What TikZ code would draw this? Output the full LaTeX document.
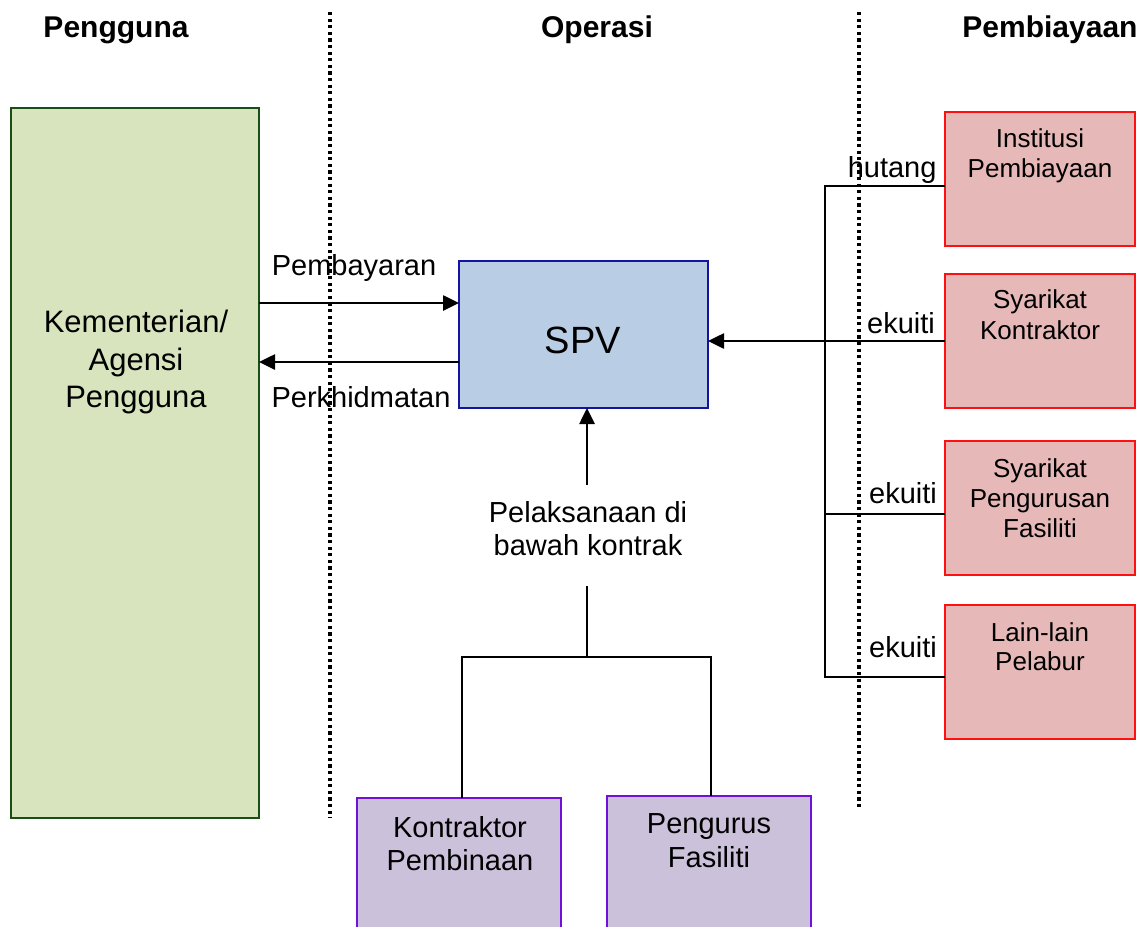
\documentclass[tikz,border=0pt]{standalone}
\usepackage{fontspec}
\setmainfont{Liberation Sans}
\usetikzlibrary{arrows.meta}
\definecolor{gfill}{HTML}{D7E4BD}
\definecolor{gdraw}{HTML}{1B4D14}
\definecolor{bfill}{HTML}{B9CDE5}
\definecolor{bdraw}{HTML}{1414A0}
\definecolor{rfill}{HTML}{E6B9B8}
\definecolor{rdraw}{HTML}{FF1010}
\definecolor{pfill}{HTML}{CCC1DA}
\definecolor{pdraw}{HTML}{7010D8}
\tikzset{
  box/.style={draw, line width=2pt, inner sep=0pt, outer sep=0pt},
  greenbox/.style={box, fill=gfill, draw=gdraw},
  bluebox/.style={box, fill=bfill, draw=bdraw},
  redbox/.style={box, fill=rfill, draw=rdraw},
  purplebox/.style={box, fill=pfill, draw=pdraw},
  conn/.style={line width=2.2pt},
  arr/.style={line width=2.6pt, -{Triangle[length=16pt,width=15pt]}},
  divider/.style={line width=3.2pt, dash pattern=on 3.2pt off 3.4pt},
  head/.style={font=\fontsize{30}{36}\selectfont\bfseries, anchor=base},
  lbl/.style={font=\fontsize{29}{33}\selectfont, anchor=base},
  rtxt/.style={font=\fontsize{26}{30}\selectfont, anchor=base},
}
\begin{document}
\begin{tikzpicture}[x=1pt,y=-1pt]
\useasboundingbox (0,0) rectangle (1148,926);
\clip (0,0) rectangle (1148,926);
\fill[white] (0,0) rectangle (1148,926);

% headers
\node[head] (hA) at (116,37) {Pengguna};
\node[head] (hB) at (597,37) {Operasi};
\node[head] (hC) at (1050,37) {Pembiayaan};

% dividers
\coordinate (d1t) at (330,12); \coordinate (d1b) at (330,818);
\coordinate (d2t) at (859,12); \coordinate (d2b) at (859,810);
\draw[divider] (d1t) -- (d1b);
\draw[divider] (d2t) -- (d2b);

% boxes
\node[greenbox, minimum width=248pt, minimum height=710pt] (kem) at (135,463) {};
\node[bluebox, minimum width=249pt, minimum height=147pt] (spv) at (583.5,334.5) {};
\node[redbox, minimum width=190pt, minimum height=134pt] (r1) at (1040,178.5) {};
\node[redbox, minimum width=190pt, minimum height=134pt] (r2) at (1040,340.5) {};
\node[redbox, minimum width=190pt, minimum height=134pt] (r3) at (1040,508) {};
\node[redbox, minimum width=190pt, minimum height=134pt] (r4) at (1040,672) {};
\node[purplebox, minimum width=204pt, minimum height=200pt] (p1) at (459,898) {};
\node[purplebox, minimum width=204pt, minimum height=200pt] (p2) at (709,896) {};

% box texts
\node[lbl, font=\fontsize{31}{37}\selectfont] at (136,332) {Kementerian/};
\node[lbl, font=\fontsize{31}{37}\selectfont] at (136,370) {Agensi};
\node[lbl, font=\fontsize{31}{37}\selectfont] at (136,407) {Pengguna};
\node[lbl, font=\fontsize{38}{44}\selectfont] at (583,353) {SPV};
\node[rtxt] at (1040,147) {Institusi};
\node[rtxt] at (1040,177) {Pembiayaan};
\node[rtxt] at (1040,308) {Syarikat};
\node[rtxt] at (1040,339) {Kontraktor};
\node[rtxt] at (1040,477) {Syarikat};
\node[rtxt] at (1040,507) {Pengurusan};
\node[rtxt] at (1040,537) {Fasiliti};
\node[rtxt] at (1040,641) {Lain-lain};
\node[rtxt] at (1040,670) {Pelabur};
\node[lbl] at (460,837) {Kontraktor};
\node[lbl] at (460,870) {Pembinaan};
\node[lbl] at (709,833) {Pengurus};
\node[lbl] at (709,867) {Fasiliti};

% left arrows
\draw[arr] (kem.east |- 0,303) -- (spv.west |- 0,303);
\draw[arr] (spv.west |- 0,362) -- (kem.east |- 0,362);
\node[lbl] at (354,275) {Pembayaran};
\node[lbl] at (361,407) {Perkhidmatan};

% contract arrow
\coordinate (c1) at (587,485);
\coordinate (c2) at (587,586);
\coordinate (c3) at (587,657);
\draw[arr] (c1) -- (spv.south -| c1);
\node[lbl] at (588,522) {Pelaksanaan di};
\node[lbl] at (588,555) {bawah kontrak};
\draw[conn] (c2) -- (c3);
\draw[conn] (p1.north -| 462,0) -- (462,657) -- (711,657) -- (p2.north -| 711,0);

% financing tree
\coordinate (t1) at (825,186);
\coordinate (t4) at (825,677);
\draw[conn] (r1.west |- t1) -- (t1) -- (t4) -- (r4.west |- t4);
\draw[conn] (r3.west |- 0,514) -- (825,514);
\draw[arr] (r2.west |- 0,341) -- (spv.east |- 0,341);
\node[lbl, anchor=base east] at (940,177) {hutang};
\node[lbl] at (901,333) {ekuiti};
\node[lbl] at (903,503) {ekuiti};
\node[lbl] at (903,657) {ekuiti};
\end{tikzpicture}
\end{document}
